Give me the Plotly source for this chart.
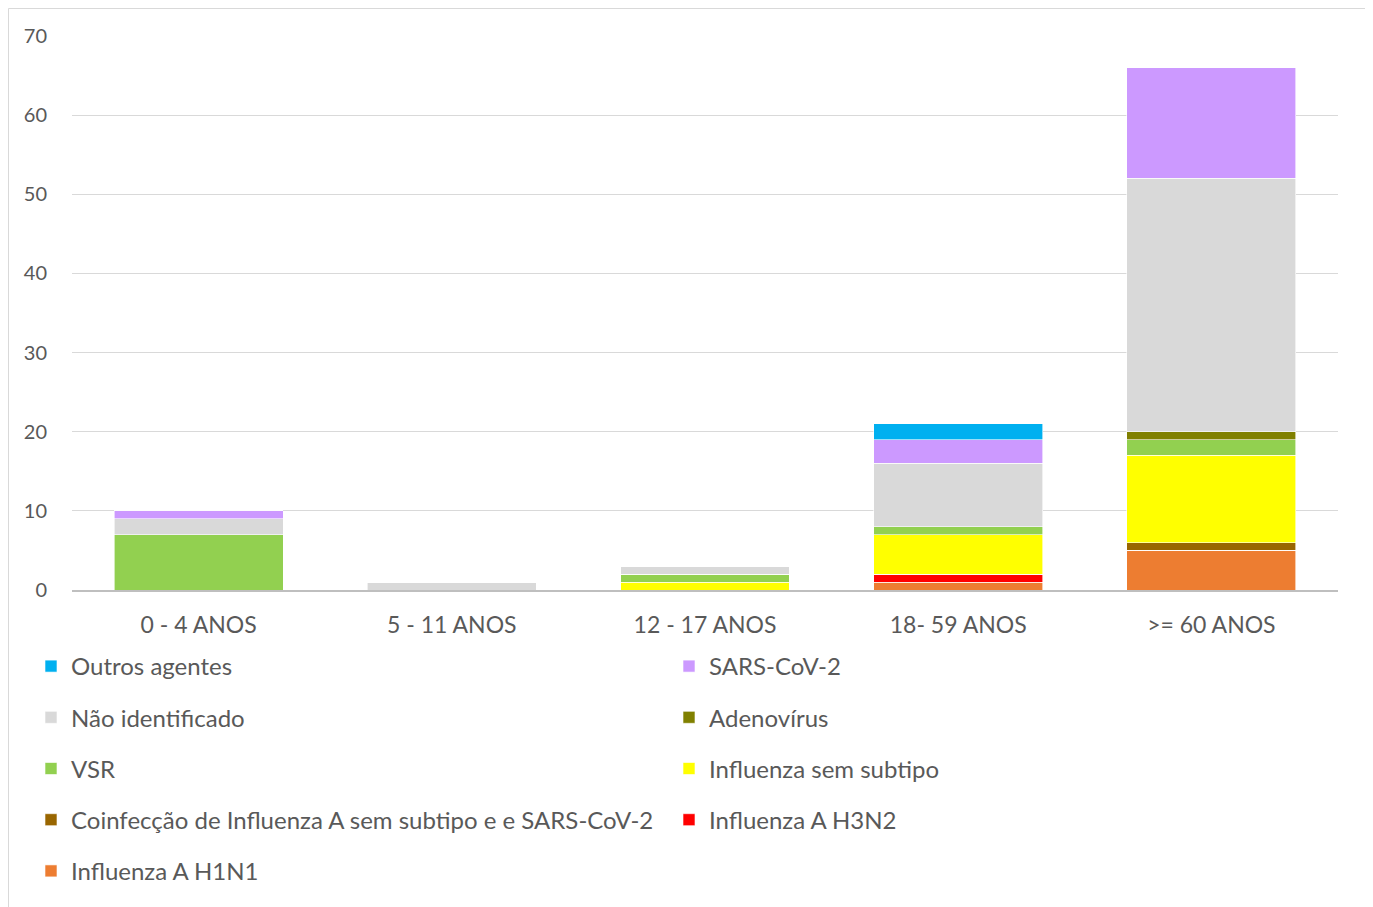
import plotly.graph_objects as go

categories = ["0 - 4 ANOS", "5 - 11 ANOS", "12 - 17 ANOS", "18- 59 ANOS", ">= 60 ANOS"]

# series, bottom of stack first
h1n1 = [0, 0, 0, 1, 5]
h3n2 = [0, 0, 0, 1, 0]
coinf = [0, 0, 0, 0, 1]
flu_sem = [0, 0, 1, 5, 11]
vsr = [7, 0, 1, 1, 2]
adeno = [0, 0, 0, 0, 1]
nao_id = [2, 1, 1, 8, 32]
sars = [1, 0, 0, 3, 14]
outros = [0, 0, 0, 2, 0]

series = [
    ("Influenza A H1N1", h1n1, "#ED7D31", "legend", 5),
    ("Influenza A H3N2", h3n2, "#FF0000", "legend2", 4),
    ("Coinfecção de Influenza A sem subtipo e e SARS-CoV-2", coinf, "#996600", "legend", 4),
    ("Influenza sem subtipo", flu_sem, "#FFFF00", "legend2", 3),
    ("VSR", vsr, "#92D050", "legend", 3),
    ("Adenovírus", adeno, "#808000", "legend2", 2),
    ("Não identificado", nao_id, "#D9D9D9", "legend", 2),
    ("SARS-CoV-2", sars, "#CC99FF", "legend2", 1),
    ("Outros agentes", outros, "#00B0F0", "legend", 1),
]

FONT = "Lato"
GREY = "#595959"

fig = go.Figure()
for name, vals, color, leg, rank in series:
    fig.add_trace(go.Bar(
        x=categories, y=vals, name=name,
        marker=dict(color=color, line=dict(color="white", width=0.6)),
        legend=leg, legendrank=rank, legendgroup=name,
    ))

OFF = 8  # page body margin
W, H = 1373, 907
# desired plot area in screen pixels: x 72..1338, y 36..590
L = 72 - OFF
T = 36 - OFF
pw = 1338 - 72
ph = 590 - 36
R = W - L - pw
B = H - T - ph

def px_x(p):
    return (p - 72) / pw

def px_y(p):
    return (590 - p) / ph

fig.update_layout(
    width=W, height=H,
    margin=dict(l=L, r=R, t=T, b=B, autoexpand=False),
    barmode="stack",
    bargap=0.333,
    plot_bgcolor="white",
    paper_bgcolor="white",
    font=dict(family=FONT, color=GREY, size=20),
    xaxis=dict(
        showgrid=False, showline=True, linecolor="#BFBFBF", linewidth=1.5,
        ticks="", tickfont=dict(size=23, color=GREY, family=FONT),
        ticklabelstandoff=14,
    ),
    yaxis=dict(
        range=[0, 70], dtick=10, showgrid=True, gridcolor="#D9D9D9", gridwidth=1,
        zeroline=False, showline=False, ticks="",
        tickfont=dict(size=20, color=GREY, family=FONT),
        ticklabelstandoff=24,
    ),
    legend=dict(
        orientation="v", x=px_x(31), y=px_y(644), xanchor="left", yanchor="top",
        traceorder="grouped", tracegroupgap=17,
        font=dict(size=24, color=GREY, family=FONT),
        bgcolor="rgba(0,0,0,0)",
    ),
    legend2=dict(
        orientation="v", x=px_x(669), y=px_y(644), xanchor="left", yanchor="top",
        traceorder="grouped", tracegroupgap=17,
        font=dict(size=24, color=GREY, family=FONT),
        bgcolor="rgba(0,0,0,0)",
    ),
    showlegend=True,
)

fig.add_shape(
    type="rect", xref="paper", yref="paper",
    x0=px_x(8.5), x1=px_x(1367), y0=px_y(915), y1=px_y(8.5),
    line=dict(color="#D9D9D9", width=1), fillcolor="rgba(0,0,0,0)", layer="below",
)

fig.write_html("out.html")
